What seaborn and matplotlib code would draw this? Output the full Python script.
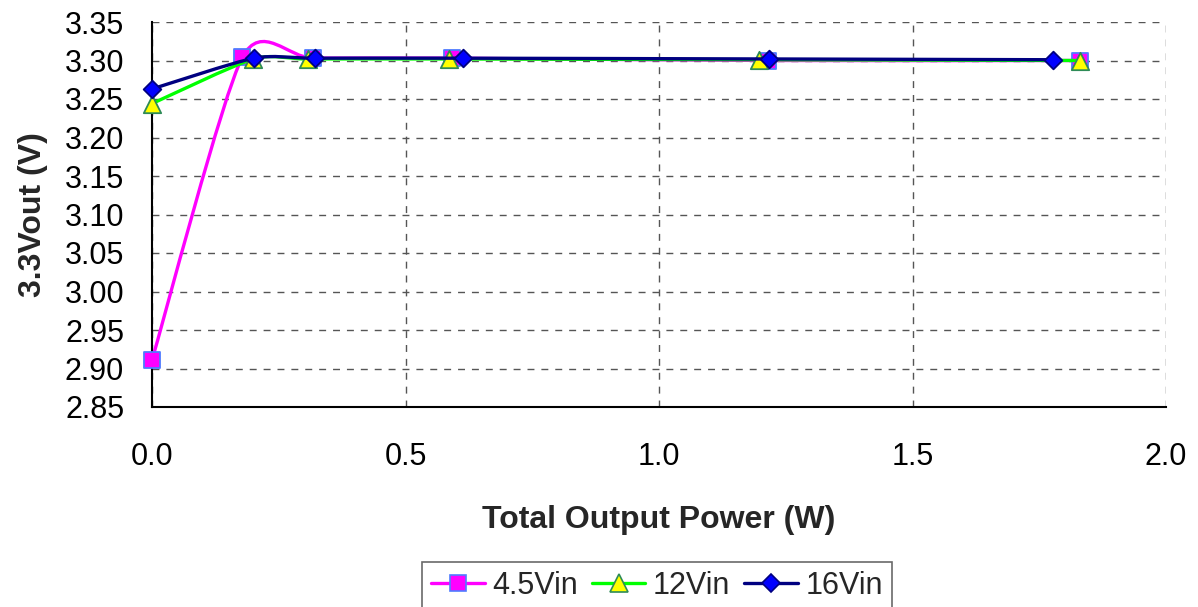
import numpy as np
import pandas as pd
import matplotlib
matplotlib.use("Agg")
import matplotlib.pyplot as plt
import seaborn as sns
from matplotlib.path import Path
from matplotlib.patches import PathPatch
from matplotlib.lines import Line2D

# ---- data ----
series_names = ["4.5Vin", "12Vin", "16Vin"]
x_45 = [0.0, 0.178, 0.318, 0.592, 1.215, 1.830]
y_45 = [2.911, 3.304, 3.303, 3.303, 3.300, 3.300]
x_12 = [0.0, 0.200, 0.308, 0.586, 1.197, 1.830]
y_12 = [3.244, 3.302, 3.302, 3.302, 3.301, 3.300]
x_16 = [0.0, 0.201, 0.321, 0.613, 1.217, 1.777]
y_16 = [3.263, 3.303, 3.303, 3.303, 3.302, 3.301]
x_ticks = [0.0, 0.5, 1.0, 1.5, 2.0]
y_ticks = [2.85, 2.90, 2.95, 3.00, 3.05, 3.10, 3.15, 3.20, 3.25, 3.30, 3.35]

styles = {
    "4.5Vin": dict(color="#FF00FF", marker="s", mfc="#FF00FF", mec="#4F7BFF", ms=11.5),
    "12Vin": dict(color="#00FF00", marker="^", mfc="#FFFF00", mec="#2E8B57", ms=12.5),
    "16Vin": dict(color="#000080", marker="D", mfc="#0000FF", mec="#000080", ms=9),
}
TENSION = 0.12

sns.set_theme(style="white")
plt.rcParams["font.family"] = ["Liberation Sans", "DejaVu Sans"]

fig = plt.figure(figsize=(11.98, 6.07), dpi=100)
ax = fig.add_axes([0.1269, 1 - 407 / 607, 0.9733 - 0.1269, (407 - 22) / 607])


def smooth_path(xs, ys):
    pts = np.column_stack([xs, ys]).astype(float)
    n = len(pts)
    verts = [pts[0]]
    codes = [Path.MOVETO]
    for i in range(n - 1):
        p0 = pts[i - 1] if i > 0 else pts[i]
        p1 = pts[i]
        p2 = pts[i + 1]
        p3 = pts[i + 2] if i + 2 < n else pts[i + 1]
        c1 = p1 + (p2 - p0) * TENSION
        c2 = p2 - (p3 - p1) * TENSION
        verts += [c1, c2, p2]
        codes += [Path.CURVE4] * 3
    return Path(verts, codes)


data = {"4.5Vin": (x_45, y_45), "12Vin": (x_12, y_12), "16Vin": (x_16, y_16)}
handles = []
for i, name in enumerate(series_names):
    xs, ys = data[name]
    st = styles[name]
    patch = PathPatch(smooth_path(xs, ys), facecolor="none", edgecolor=st["color"],
                      lw=2.4, zorder=3 + 2 * i, clip_on=False)
    ax.add_patch(patch)
    df = pd.DataFrame({"x": xs, "y": ys})
    sns.scatterplot(data=df, x="x", y="y", ax=ax, marker=st["marker"], s=st["ms"] ** 2,
                    color=st["mfc"], edgecolor=st["mec"], linewidth=1.3,
                    zorder=4 + 2 * i, clip_on=False, legend=False)
    handles.append(Line2D([0], [0], color=st["color"], lw=2.4, marker=st["marker"],
                          markerfacecolor=st["mfc"], markeredgecolor=st["mec"],
                          markersize=st["ms"], markeredgewidth=1.2))

ax.set_xlim(0, 2.0)
ax.set_ylim(2.85, 3.35)
ax.set_xticks(x_ticks)
ax.set_yticks(y_ticks)
ax.set_xticklabels([f"{v:.1f}" for v in x_ticks])
ax.set_yticklabels([f"{v:.2f}" for v in y_ticks])
ax.tick_params(axis="both", length=0, labelsize=22, colors="black")
ax.tick_params(axis="y", pad=20)
ax.tick_params(axis="x", pad=25)

ax.grid(True, color="#555555", linestyle=(0, (5, 5)), linewidth=1.0)
ax.set_axisbelow(True)
for s in ["top", "right"]:
    ax.spines[s].set_visible(False)
for s in ["left", "bottom"]:
    ax.spines[s].set_visible(True)
    ax.spines[s].set_color("black")
    ax.spines[s].set_linewidth(1.5)
    ax.spines[s].set_zorder(2.5)

ax.set_xlabel("Total Output Power (W)", fontsize=23, fontweight="bold", labelpad=24)
ax.set_ylabel("3.3Vout (V)", fontsize=23, fontweight="bold", labelpad=12)

leg = fig.legend(handles, series_names, loc="center", bbox_to_anchor=(657 / 1198, 1 - 586 / 607),
                 ncol=3, frameon=True, fancybox=False, fontsize=22, handlelength=1.75,
                 columnspacing=0.45, handletextpad=0.25, borderpad=0.3)
leg.get_frame().set_edgecolor("#444444")
leg.get_frame().set_linewidth(1.2)

fig.savefig("out.png", dpi=100)
